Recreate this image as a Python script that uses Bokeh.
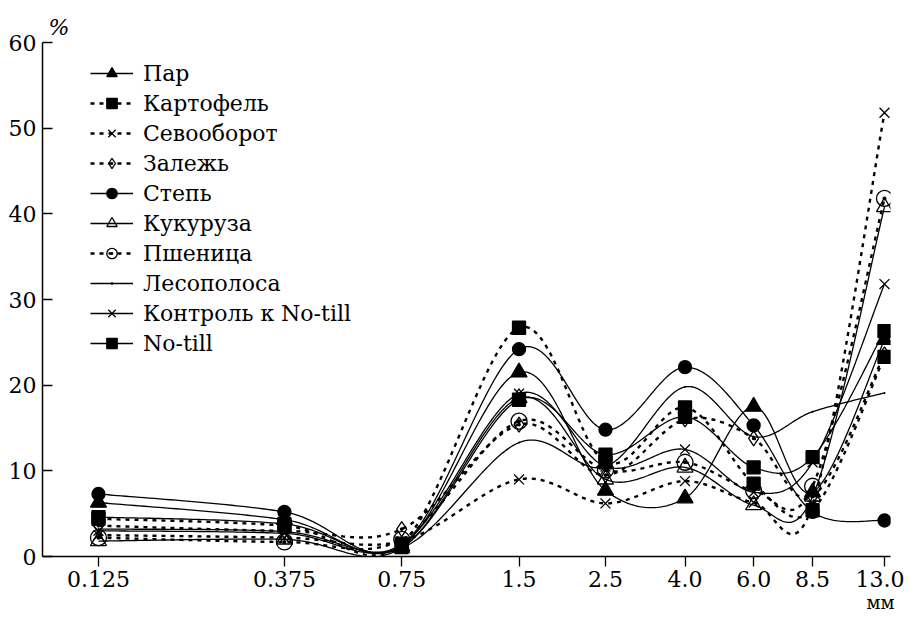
import numpy as np
from bokeh.plotting import figure
from bokeh.models import Range1d, FixedTicker, Legend, LegendItem, Title
from bokeh.embed import file_html
from bokeh.resources import INLINE

# ---- data ----
sizes_mm = [0.125, 0.375, 0.75, 1.5, 2.5, 4.0, 6.0, 8.5, 13.0]
size_labels = ["0.125", "0.375", "0.75", "1.5", "2.5", "4.0", "6.0", "8.5", "13.0"]
y_ticks = [0, 10, 20, 30, 40, 50, 60]

par = [6.3, 4.3, 1.2, 21.5, 7.7, 6.8, 17.5, 7.5, 25.3]
kartofel = [4.4, 3.6, 1.5, 26.7, 11.0, 17.4, 8.5, 5.4, 23.3]
sevooborot = [2.5, 2.2, 1.8, 9.0, 6.2, 8.8, 6.3, 6.0, 51.8]
zalezh = [3.6, 3.0, 3.2, 15.4, 9.5, 16.0, 13.8, 7.0, 23.6]
step = [7.3, 5.2, 1.3, 24.2, 14.8, 22.1, 15.3, 5.2, 4.2]
kukuruza = [1.8, 2.0, 1.0, 18.5, 9.0, 10.4, 6.0, 7.0, 40.8]
pshenica = [2.2, 1.7, 2.0, 15.8, 10.1, 11.0, 7.7, 8.2, 41.8]
lesopolosa = [3.2, 2.9, 1.0, 13.3, 10.5, 19.8, 14.0, 16.9, 19.1]
kontrol = [3.0, 2.7, 1.4, 19.0, 10.5, 12.5, 7.5, 11.0, 31.8]
notill = [4.6, 3.8, 1.1, 18.3, 11.9, 16.3, 10.4, 11.6, 26.3]

series = [
    ("Пар", par, "solid", "triangle", True),
    ("Картофель", kartofel, "dashed", "square", True),
    ("Севооборот", sevooborot, "dashed", "x", False),
    ("Залежь", zalezh, "dashed", "diamond_dot", False),
    ("Степь", step, "solid", "circle", True),
    ("Кукуруза", kukuruza, "solid", "triangle", False),
    ("Пшеница", pshenica, "dashed", "circle_dot", False),
    ("Лесополоса", lesopolosa, "solid", "dot", True),
    ("Контроль к No-till", kontrol, "solid", "x", False),
    ("No-till", notill, "solid", "square", True),
]

FONT = "DejaVu Serif"


def smooth(xs, ys, n=40):
    """Catmull-Rom style smoothing (spreadsheet 'smoothed line'), in log-x screen-like space."""
    sx, sy = 170.0, 8.5
    P = np.column_stack([np.log(np.asarray(xs, float)) * sx, np.asarray(ys, float) * sy])
    P = np.vstack([P[0], P, P[-1]])
    out = []
    t = np.linspace(0, 1, n)[:, None]
    for i in range(1, len(P) - 2):
        p0, p1, p2, p3 = P[i - 1], P[i], P[i + 1], P[i + 2]
        b1 = p1 + (p2 - p0) / 6.0
        b2 = p2 - (p3 - p1) / 6.0
        seg = ((1 - t) ** 3) * p1 + 3 * ((1 - t) ** 2) * t * b1 + 3 * (1 - t) * t ** 2 * b2 + t ** 3 * p2
        out.append(seg if i == 1 else seg[1:])
    Q = np.vstack(out)
    return np.exp(Q[:, 0] / sx), Q[:, 1] / sy


p = figure(width=904, height=612, x_axis_type="log",
           x_range=Range1d(0.0898, 13.47), y_range=Range1d(0, 60),
           output_backend="svg", toolbar_location=None,
           min_border_left=42, min_border_top=42, min_border_bottom=56, min_border_right=14)

p.grid.visible = False
p.outline_line_color = None
p.background_fill_color = "white"

items = []
for name, vals, style, marker, filled in series:
    lx, ly = smooth(sizes_mm, vals)
    if style == "dashed":
        lr = p.line(lx, ly, line_color="black", line_width=2.4, line_dash="4 5")
    else:
        lr = p.line(lx, ly, line_color="black", line_width=1.3)
    size = {"triangle": 16, "square": 13, "circle": 13, "x": 14, "diamond_dot": 15,
            "circle_dot": 16, "dot": 8}[marker]
    mr = p.scatter(sizes_mm, vals, marker=marker, size=size,
                   line_color="black", line_width=1.3,
                   fill_color="black" if filled else "white",
                   fill_alpha=1.0 if filled else 0.0)
    items.append(LegendItem(label=name, renderers=[lr, mr]))

legend = Legend(items=items, location=(48, 200), glyph_width=43, glyph_height=26,
                label_standoff=10, spacing=4, padding=0, margin=0,
                border_line_color=None, background_fill_alpha=0,
                label_text_font=FONT, label_text_font_size="22px",
                label_text_color="black")
p.add_layout(legend)

# axes
p.xaxis.ticker = FixedTicker(ticks=sizes_mm, minor_ticks=[])
p.xaxis.major_label_overrides = {v: s for v, s in zip(sizes_mm, size_labels)}
p.yaxis.ticker = FixedTicker(ticks=y_ticks, minor_ticks=[])
for ax in (p.xaxis[0], p.yaxis[0]):
    ax.axis_line_color = "black"
    ax.axis_line_width = 1.5
    ax.major_tick_line_color = "black"
    ax.major_tick_line_width = 1.3
    ax.minor_tick_line_color = None
    ax.major_label_text_font = FONT
    ax.major_label_text_font_size = "22px"
    ax.major_label_text_color = "black"
p.xaxis.major_tick_in = 0
p.xaxis.major_tick_out = 10
p.xaxis.major_label_standoff = 4
p.yaxis.major_tick_in = 10
p.yaxis.major_tick_out = 0
p.yaxis.major_label_standoff = 6

p.add_layout(Title(text="%", align="left", offset=6, standoff=6,
                   text_font=FONT, text_font_style="italic",
                   text_font_size="22px", text_color="black"), "above")
p.add_layout(Title(text="мм", align="right", offset=-4, standoff=0,
                   text_font=FONT, text_font_style="normal",
                   text_font_size="18px", text_color="black"), "below")

open("out.html", "w").write(file_html(p, INLINE))
